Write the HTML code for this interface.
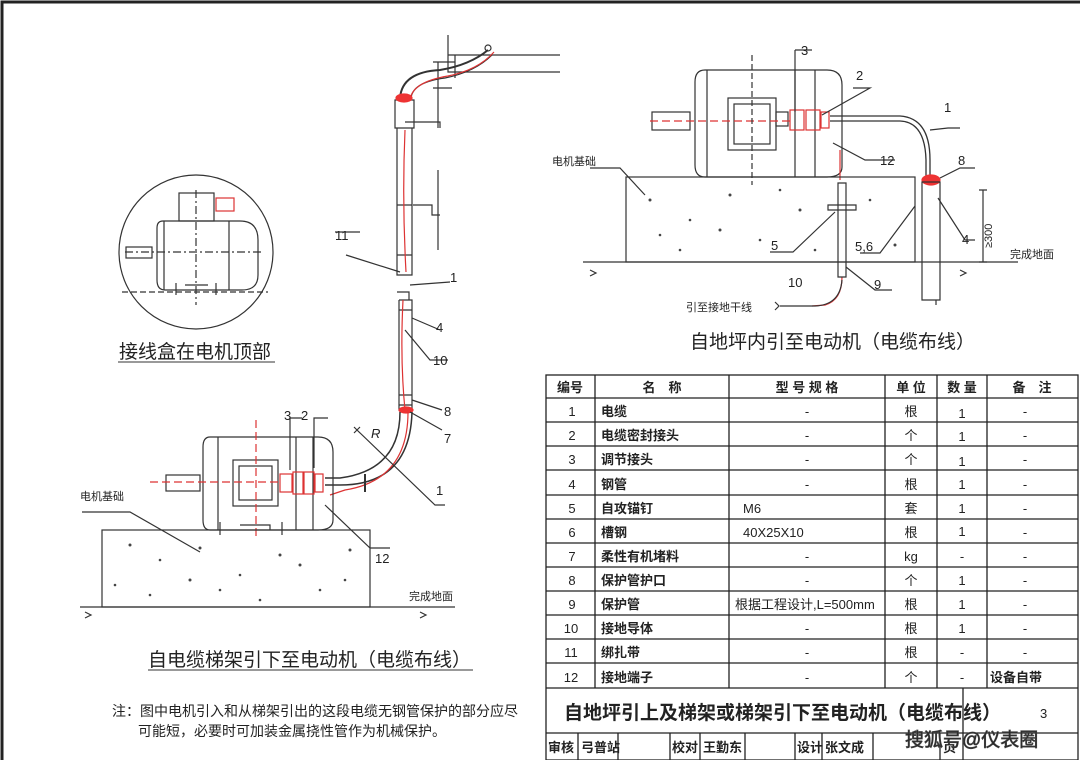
<!DOCTYPE html>
<html><head><meta charset="utf-8">
<style>
html,body{margin:0;padding:0;background:#fff;}
svg{display:block;}
text{font-family:"Liberation Sans","Noto Sans CJK SC",sans-serif;fill:#222;}
</style></head><body>
<svg width="1080" height="760" viewBox="0 0 1080 760" xmlns="http://www.w3.org/2000/svg">
<rect x="0" y="0" width="1080" height="760" fill="#fff"/>
<path d="M2 760 V2 H1080" stroke="#222" stroke-width="3" fill="none"/>

<g stroke="#333" stroke-width="1.2" fill="none">
<!-- ===== circle detail ===== -->
<circle cx="196" cy="252" r="77"/>
<rect x="179" y="193" width="35" height="28"/>
<path d="M163 221 H240 Q258 221 258 240 V275 Q258 290 242 290 H165 Q157 290 157 280 V228 Q157 221 163 221Z"/>
<line x1="229" y1="221" x2="229" y2="290"/>
<line x1="164" y1="221" x2="164" y2="290"/>
<rect x="126" y="247" width="26" height="11"/>
<path d="M122 292 H268" stroke-dasharray="6 3"/>
<path d="M196 190 V305" stroke-dasharray="8 3 2 3"/>
<path d="M125 252 H262" stroke-dasharray="8 3 2 3"/>
<path d="M176 283 V295 M216 283 V295 M185 285 H208"/>
<rect x="216" y="198" width="18" height="13" stroke="#d33"/>

<!-- ===== ladder tray & vertical pipe ===== -->
<path d="M448 35 V55 H560 M448 55 V72 H560 M455 55 V78"/>
<path d="M433 62 H455 M438 62 V128 M433 88 H452 M405 122 H440 V128"/>
<path d="M400 98 Q402 72 440 70 Q470 65 488 50" stroke-width="2"/>
<path d="M411 98 Q413 82 445 78 Q475 72 492 55" stroke-width="1.2"/>
<path d="M410 100 Q412 82 448 76 Q478 70 494 52" stroke="#d33"/>
<circle cx="488" cy="48" r="3"/>
<path d="M395 100 H414 V128 H395Z M397 128 V275 H412 V128"/>
<path d="M397 205 H412 M397 255 H412 M413 205 H432 V215 H440 M438 170 V250"/>
<path d="M405 130 Q402 200 406 272" stroke="#d33"/>
<ellipse cx="404" cy="98" rx="8" ry="4" fill="#e33" stroke="#e33"/>
<path d="M397 292 H409 V300 M399 300 H412 V410 H399 V300"/>
<path d="M399 310 H412 M399 395 H412 M399 405 H412"/>
<path d="M403 300 Q400 360 405 410" stroke="#d33"/>
<ellipse cx="406" cy="410" rx="7" ry="3" fill="#e33" stroke="#e33"/>
<path d="M400 412 Q400 470 340 478 H325 M412 412 Q410 485 340 485 H325" stroke-width="1.5"/>
<path d="M408 412 Q408 480 345 490 L330 495" stroke="#d33"/>
<path d="M365 474 V492" stroke-width="2"/>
<!-- left motor -->
<path d="M210 437 H318 Q333 437 333 452 V520 Q333 530 318 530 H210 Q203 530 203 520 V447 Q203 437 210 437Z"/>
<path d="M296 437 V530 M313 437 V530 M218 437 V530"/>
<rect x="166" y="475" width="34" height="16"/>
<rect x="233" y="460" width="45" height="46"/>
<rect x="239" y="466" width="33" height="34"/>
<path d="M220 522 V535 M282 522 V535 M240 525 H270 V530"/>
<g stroke="#d33"><rect x="280" y="474" width="12" height="18"/><rect x="293" y="472" width="10" height="22"/><rect x="304" y="472" width="10" height="22"/><rect x="315" y="474" width="8" height="18"/>
<path d="M150 482 H280" stroke-dasharray="8 4"/><path d="M256 420 V540" stroke-dasharray="8 4"/></g>
<rect x="102" y="530" width="268" height="77"/>
<path d="M80 607 H455"/>
<path d="M85 612 l6 3 -6 3 M420 612 l6 3 -6 3"/>
<path d="M354 427 l6 6 M354 433 l6 -6 M357 430 L435 505 H445"/>
<path d="M325 505 L370 548 H390 M290 470 V418 H302 M314 468 V418 H328"/>
<path d="M82 512 H130 L200 552"/>
<path d="M410 285 L450 282 M412 318 L440 330 M405 330 L430 360 H448 M412 400 L442 410 M410 412 L442 430"/>
<path d="M346 255 L400 272 M335 232 H360"/>

<!-- ===== top right ===== -->
<path d="M705 70 H827 Q842 70 842 85 V167 Q842 177 827 177 H705 Q695 177 695 165 V82 Q695 70 705 70Z"/>
<path d="M707 70 V177 M795 70 V177 M815 70 V177"/>
<rect x="652" y="112" width="38" height="18"/>
<rect x="728" y="98" width="48" height="52"/><rect x="734" y="104" width="36" height="40"/>
<rect x="776" y="112" width="12" height="14"/>
<g stroke="#d33"><rect x="790" y="110" width="14" height="20"/><rect x="806" y="110" width="14" height="20"/><rect x="821" y="112" width="8" height="16"/>
<path d="M650 121 H790" stroke-dasharray="8 4"/><path d="M840 150 V180"/><path d="M842 277 Q842 300 825 305 L812 306"/></g>
<path d="M752 55 V185" stroke-dasharray="6 3"/>
<path d="M830 116 H900 Q930 118 930 160 V178 M830 121 H900 Q925 122 926 160 V178" stroke-width="1.3"/>
<ellipse cx="931" cy="180" rx="9" ry="5" fill="#e33" stroke="#e33"/>
<rect x="626" y="177" width="289" height="85"/>
<path d="M583 262 H1018"/>
<path d="M838 183 H846 V277 H838Z M828 205 H856 V210 H828Z"/>
<path d="M922 182 H940 V300 H922Z M926 300 H936 V305"/>
<path d="M983 190 V262 M979 190 H987 M979 262 H987"/>
<path d="M853 88 H870 L822 115 M795 50 V112 M795 50 H812"/>
<path d="M833 143 L865 160 H895 M930 130 L948 128 H960"/>
<path d="M940 178 L960 168 H975 M938 198 L965 240 H975"/>
<path d="M835 212 L793 252 H770 M915 206 L880 253 H860 M846 267 L875 290 H892"/>
<path d="M842 280 Q840 305 815 306 H780 M775 302 l4 4 -4 4"/>
<path d="M590 168 H620 L645 195"/>
<path d="M590 270 l6 3 -6 3 M960 270 l6 3 -6 3"/>
</g>

<g fill="#444">
<circle cx="130" cy="545" r="1.5"/><circle cx="160" cy="560" r="1.3"/><circle cx="200" cy="548" r="1.5"/><circle cx="240" cy="575" r="1.3"/><circle cx="280" cy="555" r="1.5"/><circle cx="320" cy="590" r="1.3"/><circle cx="350" cy="550" r="1.5"/><circle cx="150" cy="595" r="1.3"/><circle cx="190" cy="580" r="1.5"/><circle cx="260" cy="600" r="1.3"/><circle cx="300" cy="565" r="1.5"/><circle cx="345" cy="580" r="1.3"/><circle cx="115" cy="585" r="1.3"/><circle cx="220" cy="590" r="1.3"/>
<circle cx="650" cy="200" r="1.5"/><circle cx="690" cy="220" r="1.3"/><circle cx="730" cy="195" r="1.5"/><circle cx="760" cy="240" r="1.3"/><circle cx="800" cy="210" r="1.5"/><circle cx="870" cy="200" r="1.3"/><circle cx="895" cy="245" r="1.5"/><circle cx="680" cy="250" r="1.3"/><circle cx="720" cy="230" r="1.5"/><circle cx="815" cy="250" r="1.3"/><circle cx="660" cy="235" r="1.3"/><circle cx="780" cy="190" r="1.3"/>
</g>

<g font-size="13">
<text x="335" y="240">11</text><text x="450" y="282">1</text><text x="436" y="332">4</text><text x="433" y="365">10</text>
<text x="444" y="416">8</text><text x="444" y="443">7</text><text x="436" y="495">1</text>
<text x="301" y="420">2</text><text x="284" y="420">3</text><text x="371" y="438" font-style="italic">R</text>
<text x="375" y="563">12</text>
<text x="801" y="55">3</text><text x="856" y="80">2</text><text x="944" y="112">1</text><text x="880" y="165">12</text>
<text x="958" y="165">8</text><text x="962" y="244">4</text><text x="771" y="250">5</text><text x="855" y="251">5,6</text><text x="874" y="289">9</text><text x="788" y="287">10</text>
</g>
<g font-size="11">
<text x="80" y="500">电机基础</text><text x="409" y="600">完成地面</text>
<text x="552" y="165">电机基础</text><text x="1010" y="258">完成地面</text>
<text x="686" y="311">引至接地干线</text>
<text x="992" y="248" transform="rotate(-90 992 248)">≥300</text>
</g>
<g font-size="19">
<text x="119" y="358">接线盒在电机顶部</text>
<text x="148" y="666">自电缆梯架引下至电动机（电缆布线）</text>
<text x="690" y="348">自地坪内引至电动机（电缆布线）</text>
</g>
<line x1="118" y1="362" x2="275" y2="362" stroke="#333"/>
<line x1="148" y1="670" x2="473" y2="670" stroke="#333"/>
<g font-size="14">
<text x="112" y="716">注：图中电机引入和从梯架引出的这段电缆无钢管保护的部分应尽</text>
<text x="138" y="736">可能短，必要时可加装金属挠性管作为机械保护。</text>
</g>

<g stroke="#222" stroke-width="1.3" fill="none">
<rect x="546" y="375" width="532" height="385"/>
<path d="M546 398 H1078 M546 422 H1078 M546 446 H1078 M546 470 H1078 M546 495 H1078 M546 519 H1078 M546 543 H1078 M546 567 H1078 M546 591 H1078 M546 615 H1078 M546 639 H1078 M546 663 H1078 M546 688 H1078 M546 733 H1078"/>
<path d="M595 375 V688 M729 375 V688 M885 375 V688 M937 375 V688 M987 375 V688 M963 688 V760"/>
<path d="M578 733 V760 M618 733 V760 M670 733 V760 M700 733 V760 M745 733 V760 M795 733 V760 M822 733 V760 M873 733 V760 M940 733 V760"/>
</g>
<g font-size="13" text-anchor="middle" font-weight="bold">
<text x="570" y="392">编号</text><text x="662" y="392">名　称</text><text x="807" y="392">型 号 规 格</text><text x="911" y="392">单 位</text><text x="962" y="392">数 量</text><text x="1032" y="392">备　注</text>
</g>
<g font-size="13">
<g text-anchor="middle">
<text x="572" y="416">1</text><text x="572" y="440">2</text><text x="572" y="464">3</text><text x="572" y="489">4</text><text x="572" y="513">5</text><text x="572" y="537">6</text><text x="572" y="561">7</text><text x="572" y="585">8</text><text x="572" y="609">9</text><text x="571" y="633">10</text><text x="571" y="657">11</text><text x="571" y="682">12</text>
<text x="807" y="416">-</text><text x="807" y="440">-</text><text x="807" y="464">-</text><text x="807" y="489">-</text><text x="807" y="561">-</text><text x="807" y="585">-</text><text x="807" y="633">-</text><text x="807" y="657">-</text><text x="807" y="682">-</text>
<text x="911" y="416">根</text><text x="911" y="440">个</text><text x="911" y="464">个</text><text x="911" y="489">根</text><text x="911" y="513">套</text><text x="911" y="537">根</text><text x="911" y="561">kg</text><text x="911" y="585">个</text><text x="911" y="609">根</text><text x="911" y="633">根</text><text x="911" y="657">根</text><text x="911" y="682">个</text>
<text x="962" y="418">1</text><text x="962" y="441">1</text><text x="962" y="466">1</text><text x="962" y="489">1</text><text x="962" y="513">1</text><text x="962" y="536">1</text><text x="962" y="561">-</text><text x="962" y="585">1</text><text x="962" y="609">1</text><text x="962" y="633">1</text><text x="962" y="657">-</text><text x="962" y="682">-</text>
<text x="1025" y="416">-</text><text x="1025" y="440">-</text><text x="1025" y="464">-</text><text x="1025" y="489">-</text><text x="1025" y="513">-</text><text x="1025" y="537">-</text><text x="1025" y="561">-</text><text x="1025" y="585">-</text><text x="1025" y="609">-</text><text x="1025" y="633">-</text><text x="1025" y="657">-</text>
</g>
<g font-weight="bold">
<text x="601" y="416">电缆</text><text x="601" y="440">电缆密封接头</text><text x="601" y="464">调节接头</text><text x="601" y="489">钢管</text><text x="601" y="513">自攻锚钉</text><text x="601" y="537">槽钢</text><text x="601" y="561">柔性有机堵料</text><text x="601" y="585">保护管护口</text><text x="601" y="609">保护管</text><text x="601" y="633">接地导体</text><text x="601" y="657">绑扎带</text><text x="601" y="682">接地端子</text>
<text x="990" y="682">设备自带</text>
</g>
<text x="743" y="513">M6</text><text x="743" y="537">40X25X10</text><text x="735" y="609">根据工程设计,L=500mm</text>
</g>
<text x="564" y="719" font-size="19" font-weight="bold">自地坪引上及梯架或梯架引下至电动机（电缆布线）</text>
<text x="1040" y="718" font-size="13">3</text>
<g font-size="13" font-weight="bold">
<text x="548" y="752">审核</text><text x="581" y="752">弓普站</text><text x="672" y="752">校对</text><text x="703" y="752">王勤东</text><text x="797" y="752">设计</text><text x="825" y="752">张文成</text><text x="943" y="752">页</text>
</g>
<text x="905" y="746" font-size="19" fill="#fff" stroke="#444" stroke-width="0.7">搜狐号@仪表圈</text>
</svg>
</body></html>
